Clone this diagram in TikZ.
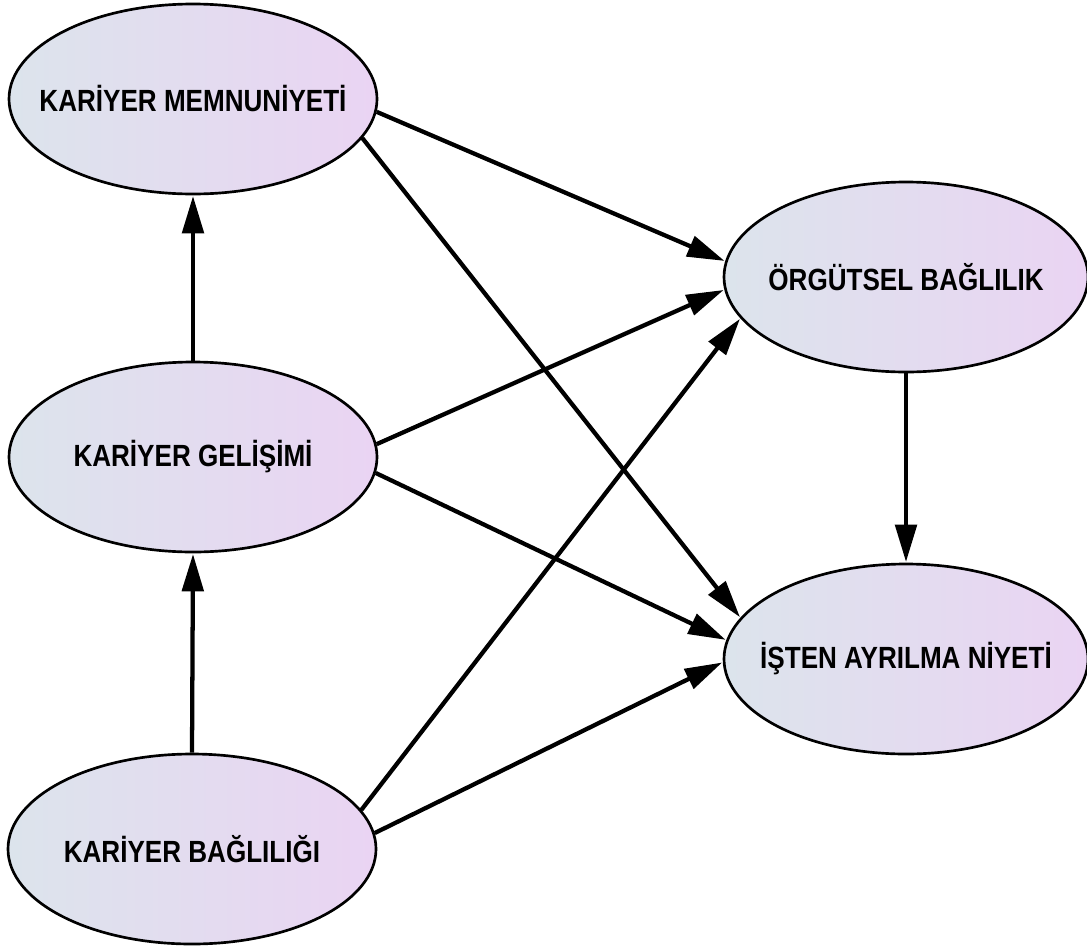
\documentclass[tikz,border=0pt]{standalone}
\usepackage{fontspec}
\setmainfont{Liberation Sans}
\newfontfamily\labelfont[FakeStretch=0.85]{Liberation Sans Bold}
\usetikzlibrary{arrows.meta,shapes.geometric}

\definecolor{shadeleft}{RGB}{220,228,236}
\definecolor{shaderight}{RGB}{234,212,243}

% zero-width label so the ellipse size is set by minimum width/height only
\newcommand{\constructname}[1]{\makebox[0pt][c]{#1}}

\tikzset{
  construct/.style={
    ellipse, draw=black, line width=2pt,
    minimum width=276pt, minimum height=142.5pt, inner sep=0pt,
    left color=shadeleft, right color=shaderight,
    font=\labelfont\fontsize{23}{27}\selectfont
  },
  path/.style={
    draw=black, line width=3.2pt,
    -{Triangle[length=28pt,width=16pt]}, shorten >=0.5pt
  }
}

\begin{document}
\begin{tikzpicture}[x=0.75pt,y=-0.75pt]
  \useasboundingbox (0,0) rectangle (1087,946);

  % latent constructs
  \node[construct] (m) at (193,99)  {\constructname{KARİYER MEMNUNİYETİ}};
  \node[construct] (g) at (193,457) {\constructname{KARİYER GELİŞİMİ}};
  \node[construct] (b) at (192,849) {\constructname{KARİYER BAĞLILIĞI}};
  \node[construct, minimum width=273pt] (o) at (906,277) {\constructname{ÖRGÜTSEL BAĞLILIK}};
  \node[construct, minimum width=273pt] (i) at (906,659) {\constructname{İŞTEN AYRILMA NİYETİ}};

  % vertical paths
  \draw[path] (g.north) -- (m.south);
  \draw[path] (b.north) -- (g.south);
  \draw[path] (o.south) -- (i.north);

  % paths into the organisational commitment construct
  \draw[path] (m.-4.7) -- (o.175.6);
  \draw[path] (g.4.4)  -- (o.184.7);
  \draw[path] (b.13.2) -- (o.194.4);

  % paths into the turnover intention construct
  \draw[path] (m.-13.7) -- (i.166.1);
  \draw[path] (g.-5.4)  -- (i.174);
  \draw[path] (b.5.1)   -- (i.181.9);
\end{tikzpicture}
\end{document}
